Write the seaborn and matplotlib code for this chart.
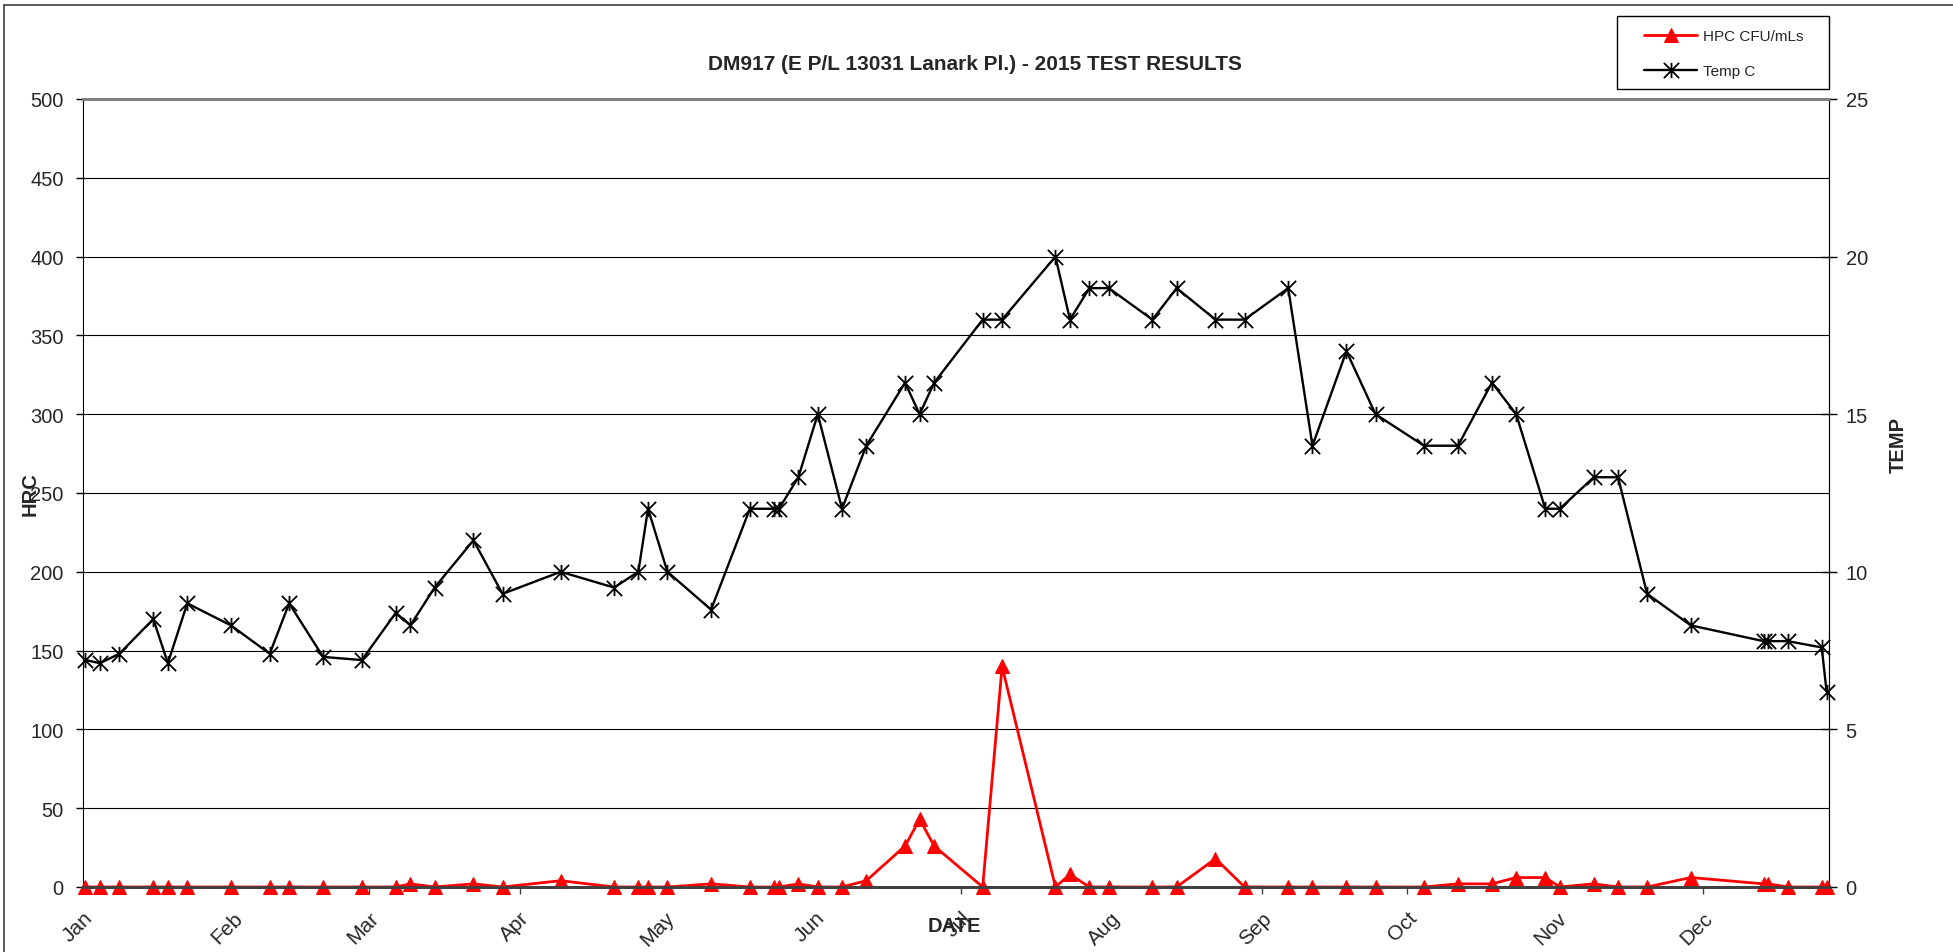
import pandas as pd
import numpy as np
import matplotlib
matplotlib.use("Agg")
import matplotlib.pyplot as plt
import matplotlib.dates as mdates
from matplotlib.path import Path
from matplotlib.lines import Line2D
from matplotlib.patches import Rectangle
import seaborn as sns

# sample dates (2015)
sample_dates = [
    "2015-01-01", "2015-01-04", "2015-01-08", "2015-01-15", "2015-01-18", "2015-01-22",
    "2015-01-31", "2015-02-08", "2015-02-12", "2015-02-19", "2015-02-27", "2015-03-06",
    "2015-03-09", "2015-03-14", "2015-03-22", "2015-03-28", "2015-04-09", "2015-04-20",
    "2015-04-25", "2015-04-27", "2015-05-01", "2015-05-10", "2015-05-18", "2015-05-23",
    "2015-05-24", "2015-05-28", "2015-06-01", "2015-06-06", "2015-06-11", "2015-06-19",
    "2015-06-22", "2015-06-25", "2015-07-05", "2015-07-09", "2015-07-20", "2015-07-23",
    "2015-07-27", "2015-07-31", "2015-08-09", "2015-08-14", "2015-08-22", "2015-08-28",
    "2015-09-06", "2015-09-11", "2015-09-18", "2015-09-24", "2015-10-04", "2015-10-11",
    "2015-10-18", "2015-10-23", "2015-10-29", "2015-11-01", "2015-11-08", "2015-11-13",
    "2015-11-19", "2015-11-28", "2015-12-13", "2015-12-14", "2015-12-18", "2015-12-25",
    "2015-12-26",
]

# HPC CFU/mLs
hpc = [
    0, 0, 0, 0, 0, 0, 0, 0, 0, 0, 0, 0,
    2, 0, 2, 0, 4, 0, 0, 0, 0, 2, 0, 0,
    0, 2, 0, 0, 4, 26, 43, 26, 0, 140, 0, 8,
    0, 0, 0, 0, 18, 0, 0, 0, 0, 0, 0, 2,
    2, 6, 6, 0, 2, 0, 0, 6, 2, 2, 0, 0,
    0,
]

# Temp C
temp_c = [
    7.2, 7.1, 7.4, 8.5, 7.1, 9.0, 8.3, 7.4, 9.0, 7.3, 7.2, 8.7,
    8.3, 9.5, 11.0, 9.3, 10.0, 9.5, 10.0, 12.0, 10.0, 8.8, 12.0, 12.0,
    12.0, 13.0, 15.0, 12.0, 14.0, 16.0, 15.0, 16.0, 18.0, 18.0, 20.0, 18.0,
    19.0, 19.0, 18.0, 19.0, 18.0, 18.0, 19.0, 14.0, 17.0, 15.0, 14.0, 14.0,
    16.0, 15.0, 12.0, 12.0, 13.0, 13.0, 9.3, 8.3, 7.8, 7.8, 7.8, 7.6,
    6.2,
]

df = pd.DataFrame({
    # Excel draws each day in the middle of its slot
    "date": pd.to_datetime(sample_dates) + pd.Timedelta(hours=12),
    "hpc": hpc,
    "temp": temp_c,
})

sns.set_style("white")
plt.rcParams["font.family"] = ["Liberation Sans", "DejaVu Sans"]

W, H = 1953, 953
fig = plt.figure(figsize=(W / 100, H / 100), dpi=100)
ax = fig.add_axes([83 / W, 1 - 888 / H, (1829 - 83) / W, (888 - 100) / H])
ax2 = ax.twinx()

# excel style star marker: X with vertical bar
star = Path([(-1, -1), (1, 1), (-1, 1), (1, -1), (0, -1), (0, 1)],
            [Path.MOVETO, Path.LINETO] * 3)

sns.lineplot(data=df, x="date", y="hpc", ax=ax, color="red", linewidth=2,
             marker="^", markersize=10.5, markeredgecolor="red", zorder=3,
             clip_on=False, legend=False)
sns.lineplot(data=df, x="date", y="temp", ax=ax2, color="black", linewidth=1.7,
             marker=star, markersize=11, markeredgecolor="black",
             markeredgewidth=1.3, markerfacecolor="none", zorder=3,
             clip_on=False, legend=False)

ax.set_xlim(pd.Timestamp("2015-01-01"), pd.Timestamp("2015-12-27"))
ax.set_ylim(0, 500)
ax2.set_ylim(0, 25)
ax.set_yticks(np.arange(0, 501, 50))
ax2.set_yticks(np.arange(0, 26, 5))

ax.xaxis.set_major_locator(mdates.MonthLocator())
ax.xaxis.set_major_formatter(mdates.DateFormatter("%b"))

ax.grid(axis="y", color="black", linewidth=0.8)
ax.grid(axis="x", visible=False)
ax.set_axisbelow(True)

ax.tick_params(axis="y", direction="out", length=5, width=1, labelsize=14.5, pad=9,
               left=True, color="black")
ax.tick_params(axis="x", direction="out", length=5, width=1, labelsize=15, pad=10,
               bottom=True, color="#404040")
ax2.tick_params(axis="y", direction="inout", length=12, width=1, labelsize=14.5, pad=6,
                right=True, color="black")
for lab in ax.get_xticklabels():
    lab.set_rotation(45)
    lab.set_ha("right")
    lab.set_va("top")
    lab.set_rotation_mode("anchor")

for a in (ax, ax2):
    a.spines["top"].set_color("#808080")
    a.spines["top"].set_linewidth(2)
    a.spines["bottom"].set_color("#404040")
    a.spines["bottom"].set_linewidth(2)
ax.spines["left"].set_color("black")
ax2.spines["right"].set_color("black")
ax2.spines["left"].set_visible(False)

ax.set_ylabel("HRC", fontsize=14.5, fontweight="bold")
ax.yaxis.set_label_coords((40 - 83) / (1829 - 83), 0.5)
ax2.set_ylabel("TEMP", fontsize=14.5, fontweight="bold")
ax2.yaxis.set_label_coords((1889 - 83) / (1829 - 83), (888 - 445) / 788)
ax.set_xlabel("DATE", fontsize=14.5, fontweight="bold")
ax.xaxis.set_label_coords((954 - 83) / (1829 - 83), (888 - 917) / 788)

fig.suptitle("DM917 (E P/L 13031 Lanark Pl.) - 2015 TEST RESULTS", x=975 / W,
             y=1 - 65 / H, va="center", fontsize=15, fontweight="bold")

# legend: content placed inside a hand drawn box like the excel one
handles = [ax.lines[0], ax2.lines[0]]
fig.legend(handles, ["HPC CFU/mLs", "Temp C"], loc="upper left",
           bbox_to_anchor=(1644 / W, 1 - 30 / H), frameon=False,
           fontsize=11, handlelength=3.5, handletextpad=0.35, borderpad=0,
           labelspacing=1.4, borderaxespad=0)
fig.add_artist(Rectangle((1617 / W, 1 - 90 / H), (1829 - 1617) / W, 73 / H,
                         transform=fig.transFigure, fill=False,
                         edgecolor="black", linewidth=1))

# chart area border (top and left edges visible)
fig.add_artist(Line2D([3.5 / W, 1], [1 - 6 / H, 1 - 6 / H], color="#404040", linewidth=1.2))
fig.add_artist(Line2D([3.5 / W, 3.5 / W], [0, 1 - 6 / H], color="#404040", linewidth=1.2))

fig.savefig("out.png", dpi=100)
